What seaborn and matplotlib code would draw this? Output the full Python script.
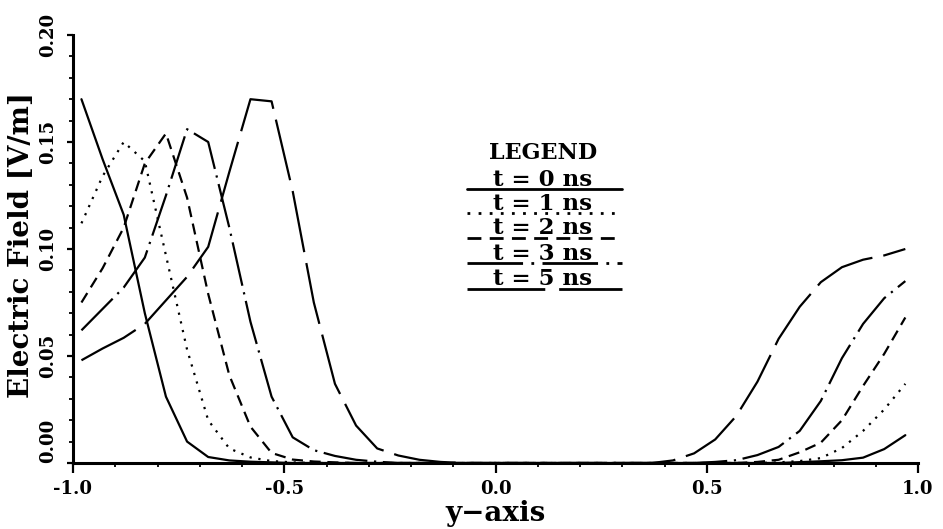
import matplotlib
matplotlib.use("Agg")
import matplotlib.pyplot as plt
from matplotlib.ticker import MultipleLocator, FormatStrFormatter
import numpy as np
import pandas as pd
import seaborn as sns

# Sample positions along the y-axis (cell centres)
y_pos = [-0.98, -0.93, -0.88, -0.83, -0.78, -0.73, -0.68, -0.63, -0.58, -0.53,
         -0.48, -0.43, -0.38, -0.33, -0.28, -0.23, -0.18, -0.13, -0.08, -0.03,
         0.02, 0.07, 0.12, 0.17, 0.22, 0.27, 0.32, 0.37, 0.42, 0.47,
         0.52, 0.57, 0.62, 0.67, 0.72, 0.77, 0.82, 0.87, 0.92, 0.97]

# Electric field [V/m] at each time step
e_t0 = [0.170, 0.142, 0.116, 0.070, 0.031, 0.010, 0.0028, 0.0012, 0.0006, 0.0003,
        0, 0, 0, 0, 0, 0, 0, 0, 0, 0,
        0, 0, 0, 0, 0, 0, 0, 0, 0, 0,
        0, 0, 0, 0, 0.0004, 0.0008, 0.0013, 0.0025, 0.0065, 0.013]
e_t1 = [0.112, 0.134, 0.150, 0.141, 0.097, 0.053, 0.020, 0.0068, 0.0026, 0.0009,
        0.0003, 0, 0, 0, 0, 0, 0, 0, 0, 0,
        0, 0, 0, 0, 0, 0, 0, 0, 0, 0,
        0, 0, 0, 0.0003, 0.0009, 0.0023, 0.007, 0.015, 0.025, 0.037]
e_t2 = [0.075, 0.091, 0.110, 0.140, 0.154, 0.124, 0.079, 0.041, 0.017, 0.0047,
        0.0016, 0.0007, 0.0003, 0, 0, 0, 0, 0, 0, 0,
        0, 0, 0, 0, 0, 0, 0, 0, 0, 0,
        0, 0, 0.0005, 0.0015, 0.005, 0.0095, 0.020, 0.036, 0.051, 0.068]
e_t3 = [0.062, 0.072, 0.082, 0.096, 0.125, 0.156, 0.150, 0.110, 0.066, 0.031,
        0.012, 0.006, 0.0033, 0.0015, 0.0006, 0, 0, 0, 0, 0,
        0, 0, 0, 0, 0, 0, 0, 0, 0, 0,
        0.0005, 0.0013, 0.0037, 0.0075, 0.015, 0.029, 0.049, 0.065, 0.077, 0.085]
e_t5 = [0.048, 0.0535, 0.0585, 0.065, 0.076, 0.087, 0.101, 0.136, 0.170, 0.169,
        0.127, 0.075, 0.037, 0.0175, 0.0068, 0.0035, 0.0015, 0.0005, 0, 0,
        0, 0, 0, 0, 0, 0, 0, 0, 0.0012, 0.0045,
        0.011, 0.022, 0.038, 0.058, 0.073, 0.0845, 0.0915, 0.095, 0.097, 0.100]

labels = ["t = 0 ns", "t = 1 ns", "t = 2 ns", "t = 3 ns", "t = 5 ns"]
series = [e_t0, e_t1, e_t2, e_t3, e_t5]

dash_map = {
    "t = 0 ns": "",
    "t = 1 ns": (1, 3),
    "t = 2 ns": (5, 3),
    "t = 3 ns": (20, 3, 1, 3),
    "t = 5 ns": (28, 5),
}

df = pd.concat(
    [pd.DataFrame({"y": y_pos, "E": vals, "t": lab}) for lab, vals in zip(labels, series)],
    ignore_index=True,
)

sns.set_style("ticks")
plt.rcParams["font.family"] = ["DejaVu Serif"]
plt.rcParams["font.weight"] = "bold"
plt.rcParams["axes.unicode_minus"] = False
for key in ("text.color", "axes.labelcolor", "xtick.color", "ytick.color",
            "axes.edgecolor"):
    plt.rcParams[key] = "black"

W, H = 943, 529
fig = plt.figure(figsize=(W / 100, H / 100), dpi=100)
ax = fig.add_axes([73 / W, 1 - 463 / H, 845 / W, 428 / H])

sns.lineplot(data=df, x="y", y="E", style="t", style_order=labels, dashes=dash_map,
             color="black", linewidth=1.6, estimator=None, sort=False,
             legend=False, ax=ax)

ax.set_xlim(-1.0, 1.0)
ax.set_ylim(0.0, 0.20)

for side in ("top", "right"):
    ax.spines[side].set_visible(False)
for side in ("left", "bottom"):
    ax.spines[side].set_linewidth(2.2)

ax.xaxis.set_major_locator(MultipleLocator(0.5))
ax.xaxis.set_minor_locator(MultipleLocator(0.1))
ax.yaxis.set_major_locator(MultipleLocator(0.05))
ax.yaxis.set_minor_locator(MultipleLocator(0.01))
ax.xaxis.set_major_formatter(FormatStrFormatter("%.1f"))
ax.yaxis.set_major_formatter(FormatStrFormatter("%.2f"))

ax.tick_params(axis="x", which="major", direction="out", length=7, width=1.6,
               pad=5, labelsize=13)
ax.tick_params(axis="x", which="minor", direction="out", length=3, width=1.3)
ax.tick_params(axis="y", which="major", direction="out", length=4.5, width=1.6,
               pad=7, labelsize=13, labelrotation=90)
ax.tick_params(axis="y", which="minor", direction="out", length=3, width=1.3)

ax.set_xlabel("y\u2212axis", fontsize=20, fontweight="bold")
ax.set_ylabel("Electric Field [V/m]", fontsize=20, fontweight="bold")
ax.xaxis.set_label_coords(0.5, -0.086)
ax.yaxis.set_label_coords(-0.045, 0.509)

# Legend block: each label sits on its own line sample
x0, x1, xc = 0.466, 0.650, 0.556
rows_y = [0.640, 0.584, 0.526, 0.467, 0.407]
ax.text(xc, 0.724, "LEGEND", transform=ax.transAxes, ha="center", va="center",
        fontsize=16, fontweight="bold")
for lab, yy in zip(labels, rows_y):
    d = dash_map[lab]
    ls = "-" if d == "" else (0, d)
    ax.plot([x0, x1], [yy, yy], transform=ax.transAxes, color="black",
            linewidth=2.0, linestyle=ls, clip_on=False)
    ax.text(xc, yy + 0.008, lab, transform=ax.transAxes, ha="center",
            va="baseline", fontsize=16.5, fontweight="bold")

# Lay out the ticks, then lift the zero label so it sits above the x-axis
fig.canvas.draw()
for tick in ax.yaxis.get_major_ticks():
    tick.label1.set_fontweight("bold")
    tick.label1.set_va("center")
    if abs(tick.get_loc()) < 1e-9:
        tick.label1.set_va("bottom")
for tick in ax.xaxis.get_major_ticks():
    tick.label1.set_fontweight("bold")

fig.savefig("out.png", dpi=100)
